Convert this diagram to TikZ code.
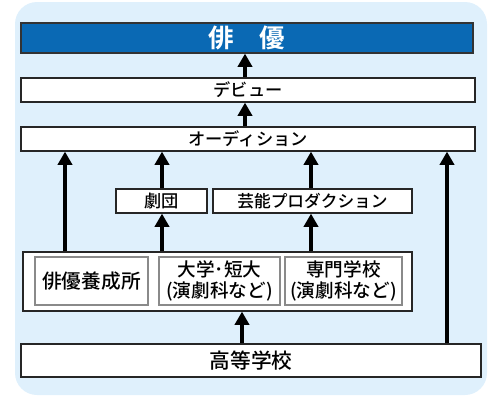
\documentclass[tikz,border=0pt]{standalone}
\usepackage{fontspec}
\usepackage{xcolor}
\usetikzlibrary{arrows.meta}
\setmainfont{Noto Sans CJK JP Medium}
\newfontfamily\jpbold{Noto Sans CJK JP Bold}
\definecolor{bgblue}{HTML}{DFF0FC}
\definecolor{barblue}{HTML}{0A69B4}
\definecolor{boxgray}{HTML}{8A8A8A}

\begin{document}
\begin{tikzpicture}[x=0.02cm, y=-0.02cm,
        stage/.style={draw=black!85, fill=white, line width=0.7pt, inner sep=0pt},
        school/.style={draw=boxgray, fill=white, line width=0.6pt, inner sep=0pt, align=center},
        up/.style={line width=2.2pt, -{Triangle[width=8pt, length=7.5pt]}}]
        \useasboundingbox (0,0) rectangle (500,400);
        \fill[bgblue, rounded corners=0.44cm] (15,2) rectangle (487,395);

        % top and stages
        \node[stage, draw=black!80, fill=barblue, text=white, minimum width={452*0.02cm}, minimum height={30*0.02cm}] (haiyu) at (247,38) {\jpbold\fontsize{14.5}{16}\selectfont 俳　優};
        \node[stage, minimum width={454*0.02cm}, minimum height={24*0.02cm}, font=\fontsize{9.8}{11}\selectfont] (debut) at (248,90) {デビュー};
        \node[stage, minimum width={454*0.02cm}, minimum height={24*0.02cm}, font=\fontsize{9.8}{11}\selectfont] (audition) at (248,139) {オーディション};

        \node[stage, minimum width={91*0.02cm}, minimum height={24*0.02cm}, font=\fontsize{9.8}{11}\selectfont] (gekidan) at (161.5,201) {劇団};
        \node[stage, minimum width={199*0.02cm}, minimum height={24*0.02cm}, font=\fontsize{9.5}{11}\selectfont] (geino) at (312.5,201) {芸能プロダクション};

        % schools
        \node[stage, minimum width={389*0.02cm}, minimum height={59*0.02cm}] (schools) at (217.5,281.5) {};
        \node[school, minimum width={113*0.02cm}, minimum height={48*0.02cm}, font=\fontsize{11.2}{13}\selectfont] (yosei) at (91.5,281) {俳優養成所};
        \node[school, minimum width={121*0.02cm}, minimum height={48*0.02cm}, font=\fontsize{10.6}{11.8}\selectfont] (daigaku) at (219.5,281) {大学･短大\\(演劇科など)};
        \node[school, minimum width={117*0.02cm}, minimum height={48*0.02cm}, font=\fontsize{10.6}{11.8}\selectfont] (senmon) at (343.5,281) {専門学校\\(演劇科など)};

        \node[stage, minimum width={460*0.02cm}, minimum height={33*0.02cm}, font=\fontsize{11.8}{13}\selectfont] (koko) at (251,360.5) {高等学校};

        % x positions of the arrows
        \coordinate (xa) at (65,0);
        \coordinate (xb) at (162,0);
        \coordinate (xc) at (311,0);
        \coordinate (xd) at (447,0);
        \coordinate (xe) at (242,0);
        \coordinate (xm) at (245,0);

        \draw[up] (debut.north -| xm) -- (haiyu.south -| xm);
        \draw[up] (audition.north -| xm) -- (debut.south -| xm);
        \draw[up] (schools.north -| xa) -- (audition.south -| xa);
        \draw[up] (gekidan.north -| xb) -- (audition.south -| xb);
        \draw[up] (geino.north -| xc) -- (audition.south -| xc);
        \draw[up] (koko.north -| xd) -- (audition.south -| xd);
        \draw[up] (schools.north -| xb) -- (gekidan.south -| xb);
        \draw[up] (schools.north -| xc) -- (geino.south -| xc);
        \draw[up] (koko.north -| xe) -- (schools.south -| xe);

    \end{tikzpicture}
\end{document}
